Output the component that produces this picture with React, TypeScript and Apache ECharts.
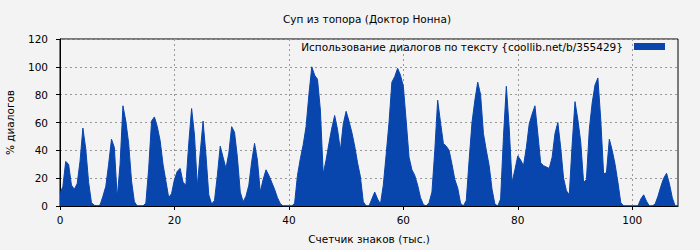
import React, { useEffect, useRef } from "react";
import * as echarts from "echarts";

const TITLE = "Суп из топора (Доктор Нонна)";
const SERIES_NAME = "Использование диалогов по тексту {coollib.net/b/355429}";
const X_NAME = "Счетчик знаков (тыс.)";
const Y_NAME = "% диалогов";
const X_TICKS = [0, 20, 40, 60, 80, 100];
const STEP = 0.5; // thousand characters between samples

// % of dialogue, sampled every 0.5 thousand characters
const seg0 = [9, 14, 32, 30, 15, 12, 16, 32, 56, 41, 17, 2.4, 0.5, 0, 0.7, 7, 14, 30, 48, 42,
  6, 30, 72, 61, 45, 18, 3, 0, 0, 0, 2, 27, 61, 64, 57, 47, 30, 18, 6, 9];
const seg20 = [19, 25, 27, 17, 15, 45, 70, 51, 14, 38, 61, 37, 8, 1.4, 4, 22, 43, 35, 27, 38,
  57, 53, 35, 10, 3, 7, 15, 32, 45, 33, 10, 19, 26, 22, 17, 12, 6, 1.7, 0, 0];
const seg40 = [0, 0, 2, 22, 34, 44, 57, 80, 100, 94, 91, 69, 23, 33, 45, 56, 65, 55, 40, 59,
  68, 61, 53, 43, 31, 21, 3, 0, 0, 5, 10, 5, 1.4, 15, 37, 60, 89, 93, 99, 94];
const seg60 = [86, 61, 35, 26, 22, 15, 6, 1, 0, 2.4, 10, 40, 76, 60, 45, 43, 40, 30, 19, 13,
  2, 0, 4, 33, 60, 76, 89, 80, 52, 40, 29, 12, 1.4, 0, 5, 50, 86, 56, 17, 26];
const seg80 = [36, 33, 29, 42, 59, 66, 72, 52, 31, 29, 28, 27, 35, 52, 60, 42, 20, 11, 8, 44,
  75, 62, 46, 17, 19, 55, 74, 87, 92, 62, 23, 24, 48, 40, 30, 17, 2.4, 0, 0, 0];
const seg100 = [0, 0, 0, 5, 8, 3.4, 0, 0, 1.4, 7, 14, 20, 23.5, 16, 6, 0, 0];

const dialogValues = [...seg0, ...seg20, ...seg40, ...seg60, ...seg80, ...seg100];

const FONT = "DejaVu Sans";
const FS = 10.5;
const BLUE = "#0845AD";

export default function App() {
  const ref = useRef<HTMLDivElement>(null);
  useEffect(() => {
    if (!ref.current) return;
    const chart = echarts.init(ref.current, null, { renderer: "svg" });
    const data = dialogValues.map((v, i) => [i * STEP, v]);
    chart.setOption({
      animation: false,
      backgroundColor: "#f3f3f3",
      textStyle: { fontFamily: FONT },
      title: {
        text: TITLE,
        left: 367,
        top: 13,
        padding: 0,
        textAlign: "center",
        textStyle: { fontFamily: FONT, fontSize: FS, fontWeight: "normal", color: "#000" },
      },
      legend: {
        data: [{ name: SERIES_NAME, icon: "rect", itemStyle: { color: BLUE } }],
        right: 35,
        top: 41,
        padding: 0,
        align: "right",
        itemWidth: 31,
        itemHeight: 7,
        textStyle: { fontFamily: FONT, fontSize: FS, color: "#000", padding: [0, 6, 0, 0] },
      },
      grid: {
        left: 60,
        right: 22,
        top: 39,
        bottom: 44,
        containLabel: false,
        outerBoundsMode: "none",
        show: true,
        backgroundColor: "#f3f3f3",
        borderColor: "#000",
        borderWidth: 1,
      },
      xAxis: {
        type: "value",
        min: 0,
        max: 108,
        interval: 20,
        name: X_NAME,
        nameLocation: "middle",
        nameGap: 27,
        nameTextStyle: { fontFamily: FONT, fontSize: FS, color: "#000" },
        axisLine: { show: true, lineStyle: { color: "#000", width: 1 } },
        axisTick: { show: true, length: 4, lineStyle: { color: "#000" }, customValues: X_TICKS },
        axisLabel: { fontFamily: FONT, fontSize: FS, color: "#000", margin: 8, customValues: X_TICKS },
        splitLine: { show: true, lineStyle: { color: "#999", type: [2, 3], width: 1 } },
      },
      yAxis: {
        type: "value",
        min: 0,
        max: 120,
        interval: 20,
        name: Y_NAME,
        nameLocation: "middle",
        nameGap: 45,
        nameRotate: 90,
        nameTextStyle: { fontFamily: FONT, fontSize: FS, color: "#000" },
        axisLine: { show: true, lineStyle: { color: "#000", width: 1 } },
        axisTick: { show: true, length: 4, lineStyle: { color: "#000" } },
        axisLabel: { fontFamily: FONT, fontSize: FS, color: "#000", margin: 12 },
        splitLine: { show: true, lineStyle: { color: "#999", type: [2, 3], width: 1 } },
      },
      series: [
        {
          name: SERIES_NAME,
          type: "line",
          data,
          symbol: "none",
          color: BLUE,
          lineStyle: { width: 1, color: BLUE },
          areaStyle: { color: BLUE, opacity: 1 },
        },
      ],
    });
    return () => chart.dispose();
  }, []);
  return (
    <div
      ref={ref}
      style={{ position: "absolute", left: 0, top: 0, width: 700, height: 250 }}
    />
  );
}
